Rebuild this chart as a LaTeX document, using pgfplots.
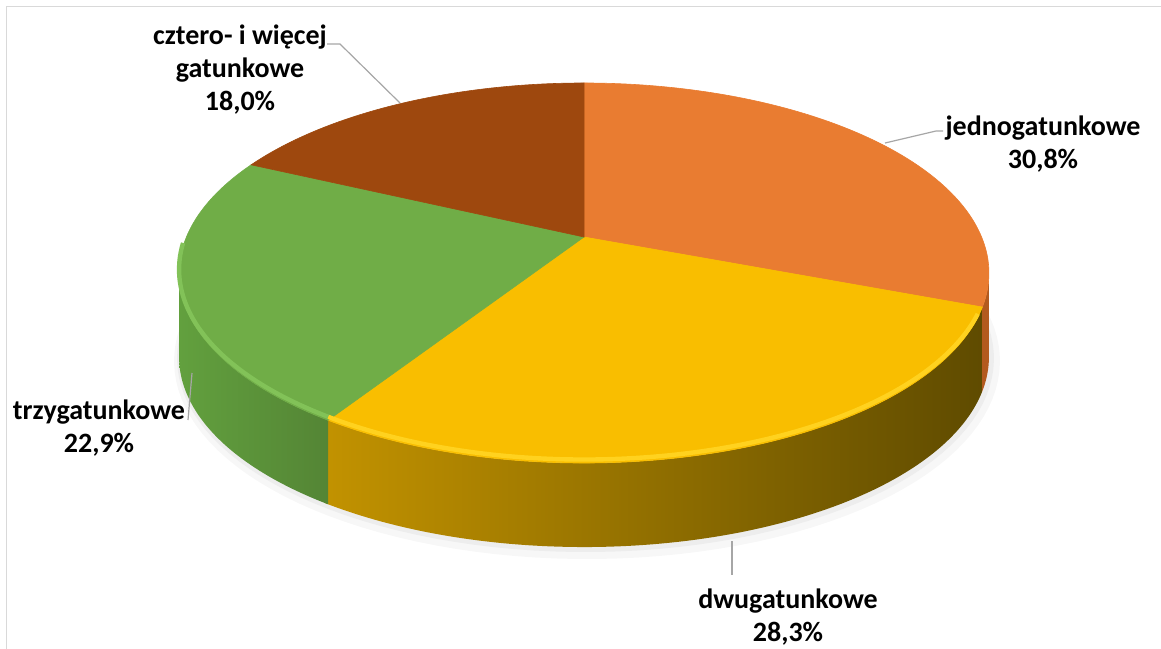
\documentclass[border=0pt]{standalone}
\usepackage{pgfplots}
\pgfplotsset{compat=1.18}
\usepackage{fontspec}
\setmainfont{Carlito}
\definecolor{cOr}{HTML}{E97C31}
\definecolor{cYe}{HTML}{F9BE00}
\definecolor{cGr}{HTML}{70AD47}
\definecolor{cBr}{HTML}{9E480E}
\definecolor{cYeL}{HTML}{C39300}
\definecolor{cYeM}{HTML}{6E5500}
\definecolor{cYeR}{HTML}{5F4B00}
\definecolor{cGrL}{HTML}{62A03E}
\definecolor{cGrR}{HTML}{548535}
\definecolor{cOrS}{HTML}{B35A1E}
\definecolor{cYeH}{HTML}{FFD21F}
\definecolor{cGrH}{HTML}{82C258}
\definecolor{cLead}{HTML}{A6A6A6}
\definecolor{cFrame}{HTML}{D9D9D9}
\begin{document}
\begin{tikzpicture}[x=1pt,y=1pt]
\path[use as bounding box] (0,0) rectangle (580.5,324);
% shares in percent
\def\vA{30.8}\def\vB{28.3}\def\vC{22.9}\def\vD{18.0}
\pgfmathsetmacro\aA{\vA*3.6}
\pgfmathsetmacro\aB{\aA+\vB*3.6}
\pgfmathsetmacro\aC{\aB+\vC*3.6}
\pgfmathsetmacro\aD{\aC+\vD*3.6}
\def\sR{100.92}\def\sL{259.08}
\def\h{84}
\begin{axis}[at={(0,0)}, anchor=south west, width=580.5pt, height=324pt,
  scale only axis, xmin=0, xmax=1161, ymin=0, ymax=648, y dir=reverse,
  hide axis,
  declare function={fx(\t)=584+397.6*sin(\t)/(1+0.1895*cos(\t));
                    fy(\t)=237-183.2*cos(\t)/(1+0.1895*cos(\t));
                    sa(\s,\a,\b)=(\s<=1)*(\a+(\b-\a)*\s)+(\s>1)*(\b-(\b-\a)*(\s-1));}]
% soft shadow
\addplot[draw=black!3, line width=8pt, fill=black!3, domain=0:360, samples=150] ({fx(x)+3},{fy(x)+\h+4});
\addplot[draw=black!7, line width=3.5pt, fill=black!7, domain=0:360, samples=150] ({fx(x)+1.5},{fy(x)+\h+1.5});
% sides (top rim, then bottom rim back)
\addplot[fill=cOrS, draw=none, domain=0:2, samples=41] ({fx(sa(x,\sR,\aA+1))},{fy(sa(x,\sR,\aA+1))+(x>1)*\h});
\addplot[left color=cYeL, middle color=cYeM, right color=cYeR, draw=none, domain=0:2, samples=201] ({fx(sa(x,\aA,\aB+1.5))},{fy(sa(x,\aA,\aB+1.5))+(x>1)*\h});
\addplot[left color=cGrL, right color=cGrR, draw=none, domain=0:2, samples=121] ({fx(sa(x,\aB,\sL))},{fy(sa(x,\aB,\sL))+(x>1)*\h});
% top face
\addplot[fill=cOr, draw=cOr, line width=0.3pt, domain=0:\aA, samples=120] ({fx(x)},{fy(x)}) -- (axis cs:584,237) -- cycle;
\addplot[fill=cYe, draw=cYe, line width=0.3pt, domain=\aA:\aB, samples=120] ({fx(x)},{fy(x)}) -- (axis cs:584,237) -- cycle;
\addplot[fill=cGr, draw=cGr, line width=0.3pt, domain=\aB:\aC, samples=120] ({fx(x)},{fy(x)}) -- (axis cs:584,237) -- cycle;
\addplot[fill=cBr, draw=cBr, line width=0.3pt, domain=\aC:\aD, samples=120] ({fx(x)},{fy(x)}) -- (axis cs:584,237) -- cycle;
% rim highlights
\addplot[draw=cYeH, line width=2.2pt, domain=\aA+3:\aB, samples=100] ({fx(x)},{fy(x)-3.5});
\addplot[draw=cGrH, line width=2.2pt, domain=\aB:\sL+8, samples=60] ({fx(x)},{fy(x)-3.5});
% leader lines
\addplot[cLead, line width=0.6pt] coordinates {(327,44) (340,44) (400,103)};
\addplot[cLead, line width=0.6pt] coordinates {(885,143) (936,131) (943,131)};
\addplot[cLead, line width=0.6pt] coordinates {(192,373) (188,420)};
\addplot[cLead, line width=0.6pt] coordinates {(732,541) (732,575)};
% frame
\addplot[cFrame, line width=0.9pt] coordinates {(6.5,700) (6.5,6.5) (1200,6.5)};
% labels
\begin{scope}[every node/.style={font=\fontsize{14}{16.5}\selectfont\bfseries, align=center, inner sep=0pt}]
\node at (axis cs:240,70) {cztero- i więcej\\gatunkowe\\18,0\%};
\node at (axis cs:1043,144) {jednogatunkowe\\30,8\%};
\node at (axis cs:99,428) {trzygatunkowe\\22,9\%};
\node at (axis cs:788,617) {dwugatunkowe\\28,3\%};
\end{scope}
\end{axis}
\end{tikzpicture}
\end{document}
